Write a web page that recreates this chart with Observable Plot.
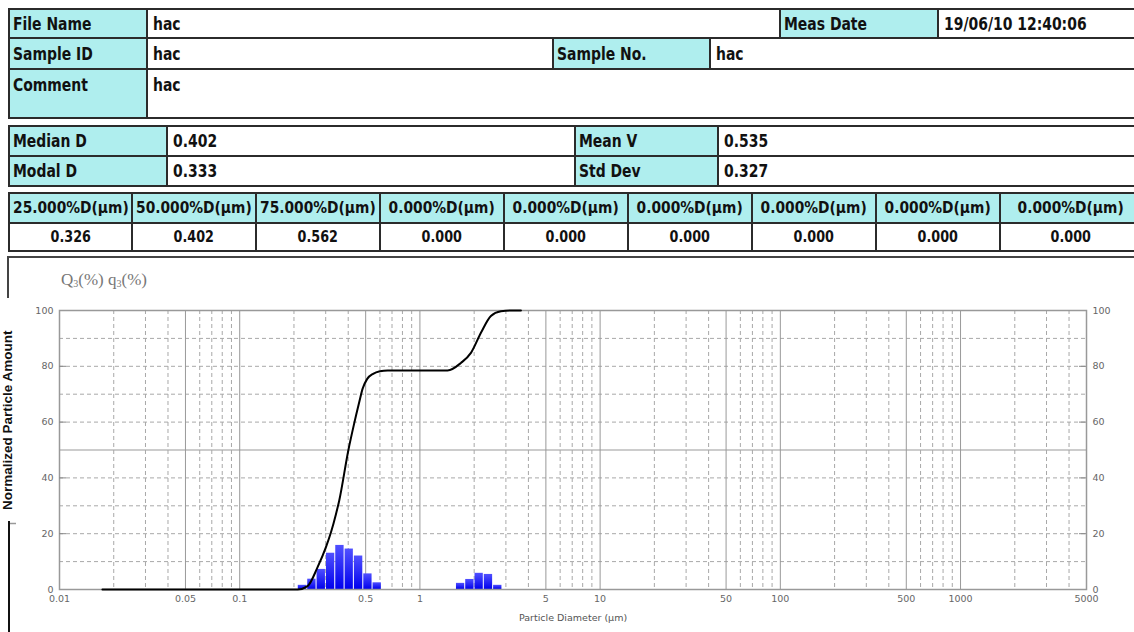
<!DOCTYPE html>
<html>
<head>
<meta charset="utf-8">
<script src="https://cdn.jsdelivr.net/npm/d3@7"></script>
<script src="https://cdn.jsdelivr.net/npm/@observablehq/plot@0.6"></script>
<style>
html,body{margin:0;padding:0;background:#fff;}
body{width:1134px;height:632px;overflow:hidden;position:relative;font-family:"DejaVu Sans",sans-serif;}
.blk{position:absolute;background:#2b2b2b;}
.cell{position:absolute;box-sizing:border-box;display:flex;align-items:center;overflow:hidden;white-space:nowrap;}
.lab{background:#afeeee;}
.val{background:#fff;}
.cell span{display:inline-block;font-weight:bold;color:#111;transform-origin:left center;}
.big span{font-size:17px;transform:scaleX(0.82);}
.hdr span{font-size:15px;transform:scaleX(0.92);}
.num span{font-size:15px;transform:scaleX(0.85);}
.ctr{justify-content:center;}
.ctr span{transform-origin:center center;}
.top{align-items:flex-start;padding-top:5px;}
#chart{position:absolute;left:9px;top:258px;}
#ytitle{position:absolute;left:61px;top:270px;font-family:"Liberation Serif",serif;font-size:17px;color:#777;}
#ytitle sub{font-size:10px;vertical-align:-2px;}
#frameTop{position:absolute;left:8px;top:256px;width:1140px;height:2px;background:#444;}
#ov{position:absolute;left:0;top:0;}
</style>
</head>
<body>
<div id="tables"></div>
<div id="frameTop"></div>
<div id="ytitle">Q<sub>3</sub>(%) q<sub>3</sub>(%)</div>
<div id="chart"></div>
<svg id="ov" width="30" height="632">
  <line x1="8" y1="256" x2="8" y2="298" stroke="#444" stroke-width="2"/>
  <rect x="0" y="298" width="18" height="223" fill="#fff"/>
  <text transform="translate(12,510) rotate(-90)" font-family="Liberation Sans, Arial, sans-serif" font-weight="bold" font-size="13.5" fill="#111">Normalized Particle Amount</text>
  <line x1="9" y1="521" x2="9" y2="632" stroke="#111" stroke-width="2"/>
  <line x1="10" y1="523.5" x2="16" y2="523.5" stroke="#999" stroke-width="1.5"/>
</svg>
<script>
// ---------------- header table texts ----------------
const infoLabels = ["File Name", "Meas Date", "Sample ID", "Sample No.", "Comment"];
const infoValues = ["hac", "19/06/10 12:40:06", "hac", "hac", "hac"];
const statLabels = ["Median D", "Mean V", "Modal D", "Std Dev"];
const statValues = ["0.402", "0.535", "0.333", "0.327"];
const pctLabels = ["25.000%D(μm)", "50.000%D(μm)", "75.000%D(μm)", "0.000%D(μm)", "0.000%D(μm)", "0.000%D(μm)", "0.000%D(μm)", "0.000%D(μm)", "0.000%D(μm)"];
const pctValues = ["0.326", "0.402", "0.562", "0.000", "0.000", "0.000", "0.000", "0.000", "0.000"];

// ---------------- chart data ----------------
const xTickValues = [0.01, 0.05, 0.1, 0.5, 1, 5, 10, 50, 100, 500, 1000, 5000];
const xTickLabels = ["0.01", "0.05", "0.1", "0.5", "1", "5", "10", "50", "100", "500", "1000", "5000"];
const yTickValues = [0, 20, 40, 60, 80, 100];
const xMajorGrid = [0.05, 0.1, 0.5, 1, 5, 10, 50, 100, 500, 1000];
const xMinorGrid = [0.02, 0.03, 0.04, 0.06, 0.07, 0.08, 0.09,
  0.2, 0.3, 0.4, 0.6, 0.7, 0.8, 0.9,
  2, 3, 4, 6, 7, 8, 9,
  20, 30, 40, 60, 70, 80, 90,
  200, 300, 400, 600, 700, 800, 900,
  2000, 3000, 4000];
const yMinorGrid = [10, 20, 30, 40, 60, 70, 80, 90];
const yMajorGrid = [50];
const yInnerTicks = [20, 40, 60, 80];

// frequency histogram q3 (%), bins in µm
const binLower = [0.210, 0.237, 0.267, 0.301, 0.339, 0.382, 0.430, 0.485, 0.546, 1.585, 1.784, 2.009, 2.262, 2.548];
const binUpper = [0.237, 0.267, 0.301, 0.339, 0.382, 0.430, 0.485, 0.546, 0.615, 1.784, 2.009, 2.262, 2.548, 2.870];
const q3Values = [1.5, 3.7, 7.2, 13.0, 15.8, 14.5, 12.0, 5.6, 2.4, 2.2, 3.6, 5.8, 5.4, 1.5];

// cumulative Q3 (%)
const cumDiameter = [0.0173, 0.210, 0.238, 0.2705, 0.301, 0.321, 0.342, 0.357, 0.401, 0.430, 0.460, 0.481, 0.510, 0.550, 0.600, 0.662, 1.424, 1.689, 1.919, 2.181, 2.477, 2.815, 3.199, 3.636];
const cumQ3 = [0, 0, 1.2, 8, 15.2, 20.5, 27, 32, 50, 59, 67, 72, 75.5, 77.3, 78.2, 78.5, 78.5, 81.2, 84.8, 92, 98, 99.7, 100, 100];

// ---------------- build header tables ----------------
const T = document.getElementById("tables");
function blk(x, y, w, h) {
  const d = document.createElement("div");
  d.className = "blk";
  Object.assign(d.style, {left: x + "px", top: y + "px", width: w + "px", height: h + "px"});
  T.appendChild(d);
}
function cell(x, y, w, h, text, cls) {
  const d = document.createElement("div");
  d.className = "cell " + cls;
  Object.assign(d.style, {left: x + "px", top: y + "px", width: w + "px", height: h + "px"});
  if (!/ctr/.test(cls)) d.style.paddingLeft = (/lab/.test(cls) ? 3 : 5) + "px";
  const s = document.createElement("span");
  s.textContent = text;
  d.appendChild(s);
  T.appendChild(d);
}
// table 1
blk(8, 8, 1140, 111);
cell(10, 10, 136, 27, infoLabels[0], "lab big");
cell(148, 10, 631, 27, infoValues[0], "val big");
cell(781, 10, 156, 27, infoLabels[1], "lab big");
cell(939, 10, 200, 27, infoValues[1], "val big");
cell(10, 39, 136, 29, infoLabels[2], "lab big");
cell(148, 39, 404, 29, infoValues[2], "val big");
cell(554, 39, 155, 29, infoLabels[3], "lab big");
cell(711, 39, 430, 29, infoValues[3], "val big");
cell(10, 70, 136, 47, infoLabels[4], "lab big top");
cell(148, 70, 990, 47, infoValues[4], "val big top");
// table 2
blk(8, 125, 1140, 62);
cell(10, 127, 156, 28, statLabels[0], "lab big");
cell(168, 127, 406, 28, statValues[0], "val big");
cell(576, 127, 141, 28, statLabels[1], "lab big");
cell(719, 127, 420, 28, statValues[1], "val big");
cell(10, 157, 156, 28, statLabels[2], "lab big");
cell(168, 157, 406, 28, statValues[2], "val big");
cell(576, 157, 141, 28, statLabels[3], "lab big");
cell(719, 157, 420, 28, statValues[3], "val big");
// table 3
blk(8, 192, 1140, 60);
pctLabels.forEach((t, i) => {
  const x = 10 + i * 124 - (i > 0 ? 1 : 0);
  const w = i === 8 ? 140 : (i === 0 ? 121 : 122);
  cell(x, 194, w, 28, t, "lab hdr ctr");
  cell(x, 224, w, 26, pctValues[i], "val num ctr");
});

// ---------------- chart ----------------
const bins = binLower.map((lo, i) => ({lo, hi: binUpper[i], q: q3Values[i]}));
const cum = cumDiameter.map((d, i) => ({d, q: cumQ3[i]}));
const xTicks = xTickValues.map((v, i) => ({v, label: xTickLabels[i]}));
const W = 1125, H = 374, mL = 50, mR = 48, mT = 52, mB = 43;
const innerW = W - mL - mR;

const gradient = () => {
  const defs = d3.create("svg:defs");
  const g = defs.append("linearGradient").attr("id", "barGrad")
    .attr("x1", 0).attr("y1", 0).attr("x2", 0).attr("y2", 1);
  g.append("stop").attr("offset", "0").attr("stop-color", "#5050ff");
  g.append("stop").attr("offset", "1").attr("stop-color", "#0000ee");
  return defs.node();
};

const chart = Plot.plot({
  width: W, height: H,
  marginLeft: mL, marginRight: mR, marginTop: mT, marginBottom: mB,
  style: {fontFamily: "DejaVu Sans, sans-serif", fontSize: "9.5px", color: "#666", background: "transparent", overflow: "visible"},
  x: {type: "log", domain: [0.01, 5000], axis: null},
  y: {domain: [0, 100], axis: null},
  marks: [
    gradient,
    Plot.ruleY(yMinorGrid, {stroke: "#a8a8a8", strokeDasharray: "4,3", strokeWidth: 1}),
    Plot.ruleY(yMajorGrid, {stroke: "#999", strokeWidth: 1}),
    Plot.ruleX(xMinorGrid, {stroke: "#a8a8a8", strokeDasharray: "4,3", strokeWidth: 1}),
    Plot.ruleX(xMajorGrid, {stroke: "#999", strokeWidth: 1}),
    Plot.rect(bins, {x1: "lo", x2: "hi", y1: 0, y2: "q", fill: "url(#barGrad)", insetLeft: 0.5, insetRight: 0.5}),
    Plot.frame({stroke: "#999", strokeWidth: 1.5}),
    Plot.line(cum, {x: "d", y: "q", stroke: "#000", strokeWidth: 2, curve: "monotone-x"}),
    Plot.ruleY(yInnerTicks, {stroke: "#888", insetRight: innerW - 7}),
    Plot.ruleY(yInnerTicks, {stroke: "#888", insetLeft: innerW - 7}),
    Plot.axisY(yTickValues, {anchor: "left", tickSize: 0, tickPadding: 6, label: null}),
    Plot.axisY(yTickValues, {anchor: "right", tickSize: 0, tickPadding: 6, label: null}),
    Plot.text(xTicks, {x: "v", frameAnchor: "bottom", dy: 12, text: "label", fill: "#666", fontSize: 9.5}),
    Plot.text(["Particle Diameter (µm)"], {frameAnchor: "bottom", dy: 31, text: d => d, fill: "#555", fontSize: 9.5})
  ]
});
document.getElementById("chart").appendChild(chart);
</script>
</body>
</html>
